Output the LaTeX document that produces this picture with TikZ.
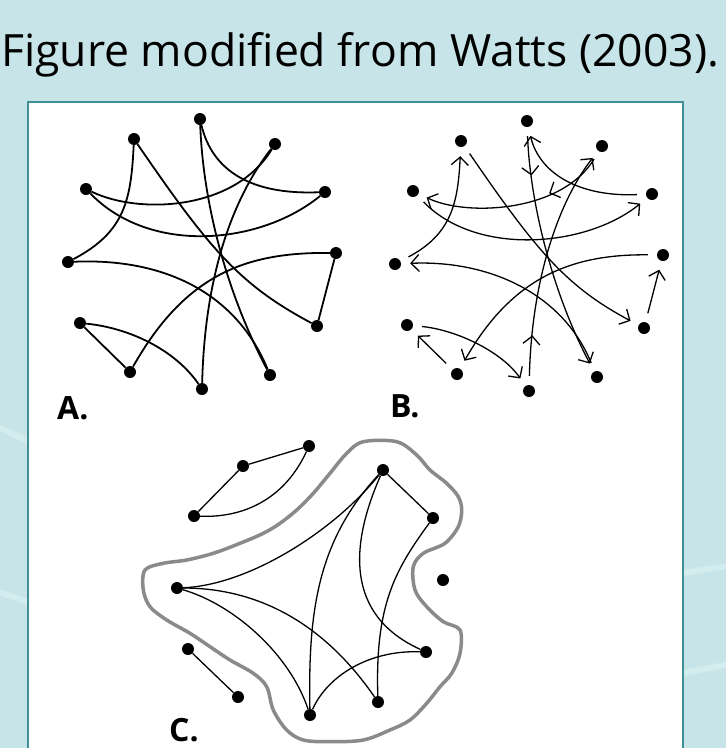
\documentclass[tikz,border=0pt]{standalone}
\usepackage{fontspec}
\usetikzlibrary{arrows.meta,decorations.markings}
\newfontfamily\titlefont{Open Sans}
\definecolor{bgteal}{HTML}{C7E5E8}
\definecolor{bgstreak}{HTML}{D3ECEE}
\definecolor{paneledge}{HTML}{3F8F94}
\definecolor{blobgray}{HTML}{8A8A8A}
\begin{document}
\begin{tikzpicture}[x=1pt,y=-1pt,
  dot/.style={circle,fill=black,inner sep=0pt,minimum size=12pt},
  edgeA/.style={line width=1.8pt,black},
  edgeB/.style={line width=1.3pt,black,shorten <=9pt,shorten >=9pt,
     -{Straight Barb[length=8pt,width=17pt]}},
  midmark/.style={postaction={decorate},decoration={markings,
     mark=at position #1 with {\arrow{Straight Barb[length=8pt,width=17pt]}}}},
  edgeC/.style={line width=1.3pt,black},
  streak/.style={bgstreak,line width=6pt,line cap=round},
  lab/.style={font=\titlefont\bfseries\fontsize{32}{36}\selectfont,anchor=base west,inner sep=0pt}
]
\path[use as bounding box] (0,0) rectangle (726,748);
\begin{scope}
\clip (0,0) rectangle (726,748);
\fill[bgteal] (0,0) rectangle (726,748);
\draw[streak] (-10,425) .. controls (10,430) and (20,440) .. (40,445);
\draw[streak] (-10,590) .. controls (10,595) and (20,600) .. (40,605);
\draw[streak] (670,575) .. controls (690,572) and (710,568) .. (740,565);
\draw[streak] (670,675) .. controls (690,672) and (710,668) .. (740,662);
\draw[paneledge,line width=2pt,fill=white] (28,102) rectangle (683,770);
\end{scope}
\node[anchor=base west,inner sep=0pt,font=\titlefont\fontsize{44.5}{50}\selectfont] (title) at (1,66) {Figure modified from Watts (2003).};

% ---------- Panel A ----------
\node[dot] (a1) at (200,119) {};
\node[dot] (a2) at (134,139) {};
\node[dot] (a3) at (275,144) {};
\node[dot] (a4) at (86,189) {};
\node[dot] (a5) at (325,192) {};
\node[dot] (a6) at (68,262) {};
\node[dot] (a7) at (336,253) {};
\node[dot] (a8) at (80,323) {};
\node[dot] (a9) at (317,326) {};
\node[dot] (a10) at (130,372) {};
\node[dot] (a11) at (202,389) {};
\node[dot] (a12) at (270,375) {};
\draw[edgeA] (a1) .. controls (203,200) and (225,290) .. (a12);
\draw[edgeA] (a1) .. controls (212,170) and (250,195) .. (a5);
\draw[edgeA] (a2) .. controls (131,200) and (125,232) .. (a6);
\draw[edgeA] (a2) .. controls (210,250) and (240,285) .. (a9);
\draw[edgeA] (a3) .. controls (235,210) and (140,215) .. (a4);
\draw[edgeA] (a3) .. controls (235,195) and (205,270) .. (a11);
\draw[edgeA] (a4) .. controls (150,255) and (260,245) .. (a5);
\draw[edgeA] (a6) .. controls (160,258) and (235,290) .. (a12);
\draw[edgeA] (a7) -- (a9);
\draw[edgeA] (a7) .. controls (245,252) and (185,275) .. (a10);
\draw[edgeA] (a8) -- (a10);
\draw[edgeA] (a8) .. controls (130,328) and (175,350) .. (a11);
\node[lab] (labA) at (57,419) {A.};

% ---------- Panel B ----------
\begin{scope}[shift={(327,2)}]
\node[dot] (b1) at (200,119) {};
\node[dot] (b2) at (134,139) {};
\node[dot] (b3) at (275,144) {};
\node[dot] (b4) at (86,189) {};
\node[dot] (b5) at (325,192) {};
\node[dot] (b6) at (68,262) {};
\node[dot] (b7) at (336,253) {};
\node[dot] (b8) at (80,323) {};
\node[dot] (b9) at (317,326) {};
\node[dot] (b10) at (130,372) {};
\node[dot] (b11) at (202,389) {};
\node[dot] (b12) at (270,375) {};
\draw[edgeB,midmark=0.19] (b1) .. controls (203,200) and (225,290) .. (b12);
\draw[edgeB] (b5) .. controls (250,195) and (212,170) .. (b1);
\draw[edgeB] (b6) .. controls (125,232) and (131,200) .. (b2);
\draw[edgeB] (b2) .. controls (210,250) and (240,285) .. (b9);
\draw[edgeB,midmark=0.33] (b3) .. controls (235,210) and (140,215) .. (b4);
\draw[edgeB,midmark=0.2] (b11) .. controls (205,270) and (235,195) .. (b3);
\draw[edgeB] (b4) .. controls (150,255) and (260,245) .. (b5);
\draw[edgeB] (b12) .. controls (235,290) and (160,258) .. (b6);
\draw[edgeB] (b9) -- (b7);
\draw[edgeB] (b7) .. controls (245,252) and (185,275) .. (b10);
\draw[edgeB] (b10) -- (b8);
\draw[edgeB] (b8) .. controls (130,328) and (175,350) .. (b11);
\end{scope}
\node[lab] (labB) at (390,417) {B.};

% ---------- Panel C ----------
\draw[blobgray,line width=3.5pt,line join=round] plot[smooth cycle,tension=0.55] coordinates {
(363.3,441.7) (396.7,441.7) (416.7,455) (430,470) (446.7,483.3) (458.3,496.7)
(461.7,510) (458.3,526.7) (445,543.3) (423.3,553.3) (413.3,566.7) (415,590)
(426.7,606.7) (443.3,621.7) (460,630) (460,653.3) (451.7,673.3) (440,686.7)
(426.7,703.3) (410,720) (390,730) (363.3,740) (330,741.7) (303.3,740)
(286.7,730) (273.3,710) (266.7,686.7) (253.3,673.3) (230,660) (210,646.7)
(190,633.3) (166.7,620) (150,606.7) (143.3,590) (145,570) (163.3,563.3)
(186.7,560) (213.3,553.3) (240,543.3) (263.3,533.3) (280,523.3) (296.7,510)
(313.3,493.3) (330,473.3) (346.7,453.3)};
\node[dot] (c1) at (309,446) {};
\node[dot] (c2) at (243,466) {};
\node[dot] (c3) at (194,516) {};
\node[dot] (c4) at (383,470) {};
\node[dot] (c5) at (433,518) {};
\node[dot] (c6) at (443,580) {};
\node[dot] (c7) at (177,588) {};
\node[dot] (c8) at (188,649) {};
\node[dot] (c9) at (238,697) {};
\node[dot] (c10) at (426,652) {};
\node[dot] (c11) at (378,702) {};
\node[dot] (c12) at (310,715) {};
\draw[edgeC] (c2) -- (c1);
\draw[edgeC] (c2) -- (c3);
\draw[edgeC] (c3) .. controls (245,518) and (285,498) .. (c1);
\draw[edgeC] (c8) -- (c9);
\draw[edgeC] (c4) -- (c5);
\draw[edgeC] (c4) .. controls (335,530) and (250,585) .. (c7);
\draw[edgeC] (c4) .. controls (318,540) and (308,610) .. (c12);
\draw[edgeC] (c4) .. controls (350,545) and (345,615) .. (c10);
\draw[edgeC] (c5) .. controls (395,570) and (375,605) .. (c11);
\draw[edgeC] (c7) .. controls (235,605) and (290,655) .. (c12);
\draw[edgeC] (c7) .. controls (260,588) and (325,625) .. (c11);
\draw[edgeC] (c12) .. controls (328,675) and (370,650) .. (c10);
\node[lab] (labC) at (169,741) {C.};
\end{tikzpicture}
\end{document}
